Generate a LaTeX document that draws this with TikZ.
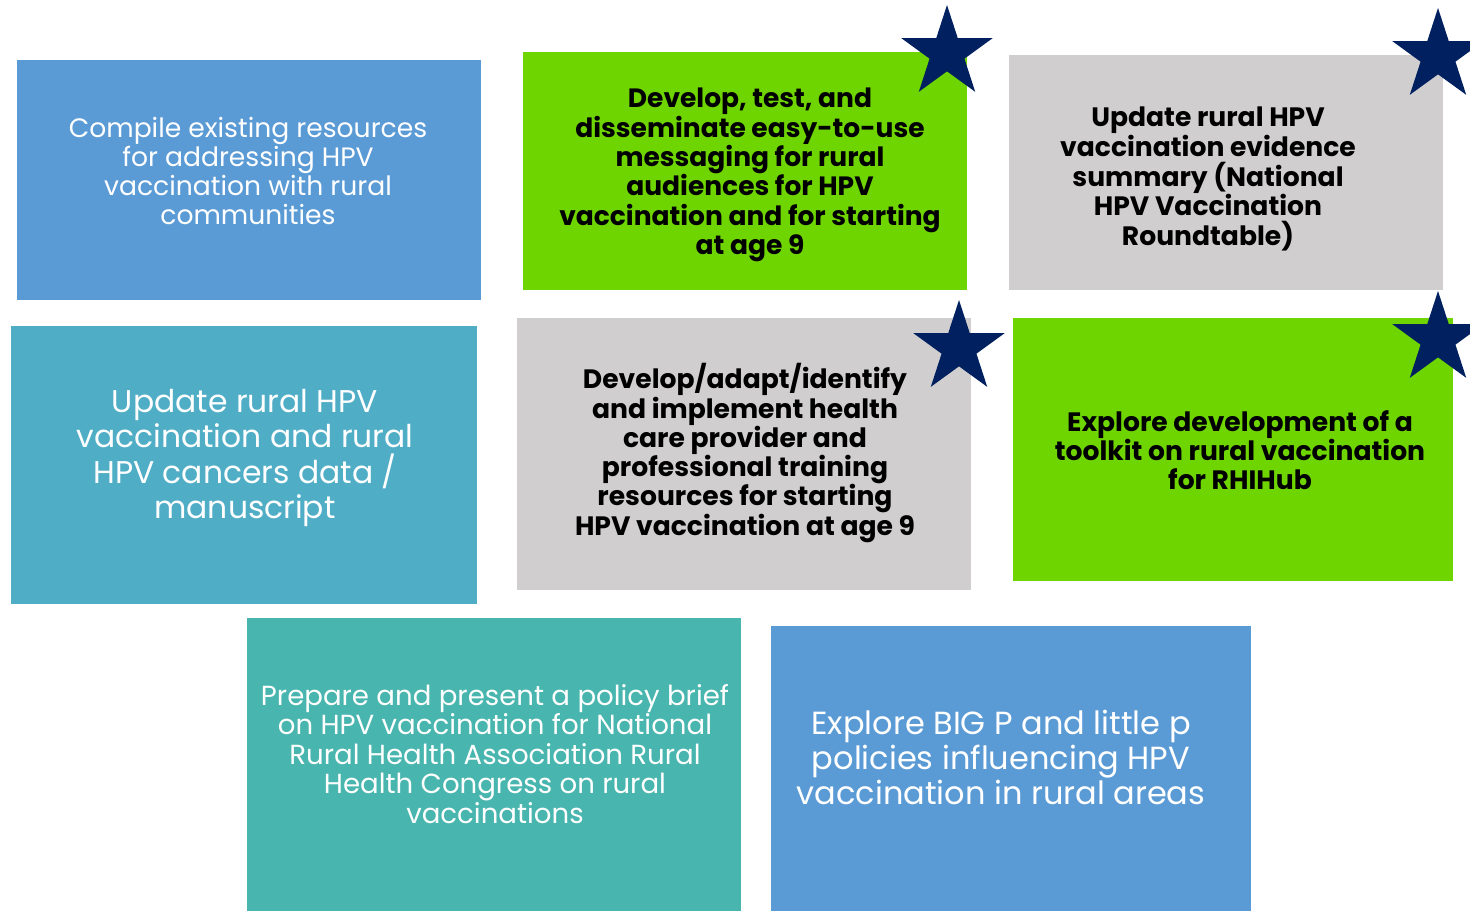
\documentclass[tikz,border=0pt]{standalone}
\usepackage{fontspec}
\setmainfont{Poppins}
\usetikzlibrary{shapes.geometric}
\definecolor{cblue}{HTML}{5B9BD5}
\definecolor{cteal}{HTML}{4FADC6}
\definecolor{cseagreen}{HTML}{48B5AE}
\definecolor{cgreen}{HTML}{6FD500}
\definecolor{cgray}{HTML}{D0CECE}
\definecolor{cnavy}{HTML}{002060}
\tikzset{
  box/.style={inner sep=0pt},
  lighttext/.style={text=white, align=center, inner sep=0pt},
  boldtext/.style={text=black, align=center, inner sep=0pt, font=\bfseries},
  navystar/.style={star, star points=5, star point ratio=2.618, minimum size=96pt, inner sep=0pt, fill=cnavy}
}
\begin{document}
\begin{tikzpicture}[x=1pt,y=-1pt]
\useasboundingbox (0,0) rectangle (1470,911);
% boxes
\fill[cblue] (17,60) rectangle (481,300) coordinate (b1);
\fill[cgreen] (523,52) rectangle (967,290) coordinate (b2);
\fill[cgray] (1009,55) rectangle (1443,290) coordinate (b3);
\fill[cteal] (11,326) rectangle (477,604) coordinate (b4);
\fill[cgray] (517,318) rectangle (971,590) coordinate (b5);
\fill[cgreen] (1013,318) rectangle (1453,581) coordinate (b6);
\fill[cseagreen] (247,618) rectangle (741,911) coordinate (b7);
\fill[cblue] (771,626) rectangle (1251,911) coordinate (b8);
% texts
\node[lighttext, font=\fontsize{26.6}{29.3}\selectfont] (t1) at (248,171)
  {Compile existing resources\\for addressing HPV\\vaccination with rural\\communities};
\node[boldtext, font=\fontsize{26.5}{29.3}\selectfont\bfseries] (t2) at (750,175)
  {Develop, test, and\\disseminate easy-to-use\\messaging for rural\\audiences for HPV\\vaccination and for starting\\at age 9};
\node[boldtext, font=\fontsize{26.6}{29.8}\selectfont\bfseries] (t3) at (1208,179)
  {Update rural HPV\\vaccination evidence\\summary (National\\HPV Vaccination\\Roundtable)};
\node[lighttext, font=\fontsize{31.4}{35.5}\selectfont] (t4) at (245,458)
  {Update rural HPV\\vaccination and rural\\HPV cancers data /\\manuscript};
\node[boldtext, font=\fontsize{26.6}{29.3}\selectfont\bfseries] (t5) at (745,453)
  {Develop/adapt/identify\\and implement health\\care provider and\\professional training\\resources for starting\\HPV vaccination at age 9};
\node[boldtext, font=\fontsize{26.6}{29}\selectfont\bfseries] (t6) at (1240,450)
  {Explore development of a\\toolkit on rural vaccination\\for RHIHub};
\node[lighttext, font=\fontsize{27.6}{29.5}\selectfont] (t7) at (495,754)
  {Prepare and present a policy brief\\on HPV vaccination for National\\Rural Health Association Rural\\Health Congress on rural\\vaccinations};
\node[lighttext, font=\fontsize{32}{35}\selectfont] (t8) at (1001,757)
  {Explore BIG P and little p\\policies influencing HPV\\vaccination in rural areas};
% stars
\node[navystar] (s1) at (947,53) {};
\node[navystar] (s2) at (1438,56) {};
\node[navystar] (s3) at (959,348) {};
\node[navystar] (s4) at (1438,339) {};
\end{tikzpicture}
\end{document}
